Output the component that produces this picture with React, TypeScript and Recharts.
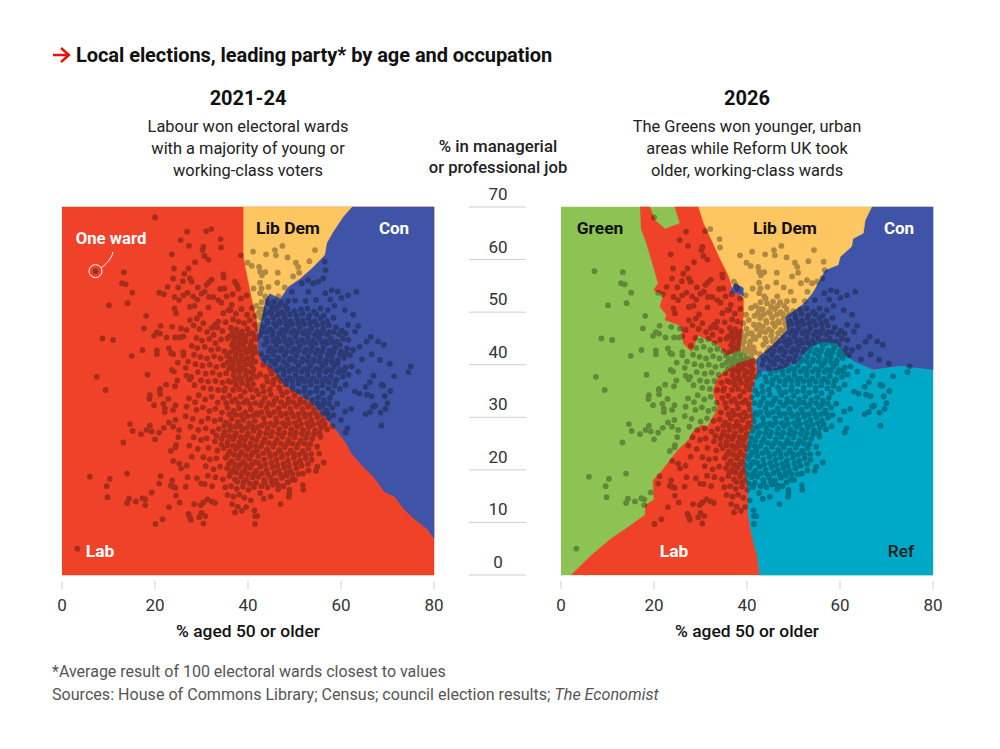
import { ScatterChart, Scatter, XAxis, YAxis, ReferenceDot } from 'recharts';

type Pt = { x: number; y: number };

const RED = '#F04228';
const YELLOW = '#FDC661';
const BLUE = '#3F54A6';
const GREEN = '#8DC353';
const CYAN = '#00A8C8';
const FONT = 'Roboto, sans-serif';

const ageTicks = [0, 20, 40, 60, 80];
const jobTicks = [0, 10, 20, 30, 40, 50, 60, 70];

const toPts = (rows: number[][]): Pt[] => rows.map(([x, y]) => ({ x, y }));

// one [age, job] pair per ward (same wards in both panels)
const scatteredWards = [
  [20, 68], [26.9, 65.3], [31, 65.4], [32.1, 65.8], [25.5, 63.7], [27.3, 62.6], [30.4, 62.4], [30.2, 61.8], [34.1, 63.9], [34.2, 62.3],
  [23.6, 61], [30.6, 60.7], [31.5, 60], [38.5, 60.8], [28.6, 59.5], [24.1, 58.3], [27.2, 58.3], [7.2, 57.8], [13.3, 57.6], [26.3, 57.3],
  [26, 55.9], [23.9, 56.4], [27.5, 56.4], [27.9, 55.8], [32.2, 56.2], [31.1, 55.2], [31.6, 55.7], [34.7, 57.2], [34.8, 56.6], [37.2, 55.8],
  [37.6, 55.2], [12.9, 55.5], [13.7, 55.3], [22.7, 54.8], [25, 54.7], [29.2, 54.7], [34, 54.4], [34.9, 54.5], [37.9, 54.5], [15.1, 53.7],
  [20.9, 53.7], [21.9, 53.4], [26.1, 53.2], [27, 53.7], [30, 53.5], [30.7, 53.9], [24.2, 52.9], [14.1, 51.7], [10.1, 51.3], [25.2, 52.3],
  [28.2, 53], [29.1, 52.4], [31.6, 52.9], [32.5, 52.9], [35.4, 53], [36.7, 53.4], [38.5, 52.6], [39.7, 53.2], [33.6, 52.3], [34.3, 51.8],
  [27.5, 51], [28.5, 51.2], [31.5, 50.9], [24.2, 50.7], [18.1, 49.3], [24.5, 49.8], [34.7, 49.8], [35.8, 50.4], [36.5, 51.4], [29.7, 49.6],
  [29, 48.8], [27.5, 48.5], [33.6, 48.2], [32.9, 47.6], [32.2, 47], [17.6, 46.9], [21.2, 47.4], [23.7, 47.2], [25.6, 46.9], [26.8, 46.6],
  [20.4, 46.2], [19.8, 45.5], [21.1, 45.9], [22.5, 45.2], [8.7, 45], [11, 44.7], [24.3, 45.2], [25.4, 45.2], [26.1, 45.4], [23, 43.1],
  [23.5, 42.2], [23.9, 42], [15, 41.7], [17.3, 42.8], [20.4, 42.7], [20.4, 42], [26.1, 42.4], [26.1, 41.8], [24.9, 40.4], [7.5, 37.7],
  [18.4, 38.1], [23.6, 39], [24.1, 38.7], [24.8, 37], [26.8, 37.9], [27.5, 37.2], [22.4, 36.2], [24.3, 35.9], [21, 35.2], [9.4, 35.2],
  [18.9, 34.2], [18.8, 33.5], [19.8, 32.3], [21.1, 35.4], [21.1, 34.4], [21.8, 32.6], [22.9, 33.5], [22.1, 31.7], [22.1, 31], [23.9, 31.4],
  [24.4, 32.3], [14.6, 28.7], [15.2, 27.4], [17, 26.8], [18.2, 27.6], [18.9, 28.4], [19.3, 27.3], [20, 25.8], [20.9, 27.1], [21.9, 28],
  [23, 29], [23.9, 28.2], [24.4, 29.5], [25.2, 27.6], [25, 26.2], [13.2, 25.2], [24.5, 24.7], [24.4, 24.3], [23.4, 23.6], [23.9, 21.7],
  [25.2, 21.2], [25.6, 20.3], [26.8, 20.8], [6, 18.7], [10.3, 18.3], [14, 19.3], [21.2, 18.8], [20.9, 17.4], [9.6, 16.9], [9.8, 14.8],
  [19.3, 15.7], [23.7, 18], [23.4, 17], [23.9, 16.8], [24.4, 16.6], [26.6, 16.8], [27, 18.6], [29, 18.4], [29.9, 17.4], [30.7, 17.3],
  [32.3, 16.9], [24.5, 15.1], [25.3, 13.8], [14.4, 14.5], [14, 13.7], [15.9, 14], [17.3, 14.6], [17.9, 14.4], [17.9, 13.3], [23, 12.9],
  [28.4, 13.5], [29.8, 13.3], [30.4, 13.8], [31.3, 14.4], [32.2, 14], [32.9, 13.7], [27.2, 11.6], [27.5, 11], [27.7, 10.5], [29.5, 11],
  [30, 11.8], [30.8, 11.2], [30.4, 9.8], [21.6, 10.6], [20.1, 9.7], [3.3, 5],
  [40.6, 14.2], [41.4, 12.3], [41.5, 11.2], [42, 11.2], [41.5, 9.7], [47, 13.5], [48.9, 16.2], [48.9, 15.5], [48.8, 14.9], [51.8, 17.1],
  [51.9, 16.2], [46.5, 16.3], [44.9, 14.9], [43.4, 14.5], [42.6, 15.6], [49.4, 18.1], [50.1, 18.1], [51.8, 19.3], [53, 19.9], [54.6, 19.8],
  [54.9, 20.6], [56.3, 21.4], [55.3, 23.1], [54.9, 24.4],
  [61.4, 27.9], [61, 27.1], [60, 29.5], [60.9, 31.1], [62.2, 31.6], [65.3, 30.6], [66.2, 31], [66.9, 32], [67.3, 32.2], [68.7, 28.4],
  [68.5, 30.9], [69.6, 31.6], [70, 32.7], [69.4, 34], [70.6, 35], [64, 34.5], [65.6, 34.3], [66.6, 34], [65.3, 35.8], [69.1, 36], [63, 34.9],
  [47.4, 62.6], [45.8, 61.8], [46, 60.8], [43.9, 61], [41.1, 61.5], [48.5, 60.4], [54.4, 61.8], [53.2, 59.7], [50.3, 59.4], [50.8, 58.6],
  [56.5, 59.6], [56.7, 58], [40.8, 58.8], [39.9, 59.4], [42.4, 58.6], [42.6, 57.7], [43.7, 57.6], [43, 57], [46.4, 57.5], [51, 57.5],
  [49.7, 56.8], [52.9, 56.1], [54, 55.5], [55.1, 55.8], [56.2, 56.4], [46.3, 55.6], [44.4, 54.8], [42.6, 55.6], [42.9, 54.5], [42.6, 53.6],
  [43.7, 53], [47.9, 54.7], [49.4, 53.9], [46.5, 53], [41.2, 54.5],
  [63.3, 53.9], [61.5, 53.2], [60.1, 52.7], [59.3, 53.9], [58, 54.2], [56.6, 53.6], [53, 53.9], [51.6, 55.5], [60.8, 50.4], [62.6, 49.5],
  [63.7, 47.4], [63, 46.3], [66.4, 45.3], [65.5, 44.4], [68, 44.4], [69.2, 43.8], [66.6, 42], [68.4, 40.9], [70.5, 40.2], [75, 39.7],
  [74.5, 38.6], [71.4, 37.8], [67, 37.9], [66.2, 36.7], [68.7, 36.2], [63.7, 38.7], [62.3, 39.7],
];

const youngerWards = [
  [28.3, 47.5], [29.6, 46.8], [30.4, 47.9], [31.2, 46.2], [32.6, 45.7], [33.4, 47.1], [34.5, 46.4], [35.2, 48.1], [28.9, 45.1], [30.1, 44.6],
  [31.7, 44.9], [33, 44.1], [34.2, 44.8], [35.6, 45], [27.9, 43.6], [29.1, 43.2], [30.7, 43.4], [32.1, 42.8], [33.6, 43], [34.9, 42.6],
  [28.4, 41.9], [29.8, 41.5], [31.2, 41.2], [32.7, 41.6], [34.1, 41.2], [35.5, 41.7], [27.1, 40.6], [28.7, 40.1], [30.2, 39.8], [31.8, 40],
  [33.2, 39.6], [34.7, 39.9], [35.9, 39.3], [26.6, 39.4], [29.2, 38.6], [30.9, 38.3], [32.4, 38.5], [33.9, 38.1], [35.3, 38.4], [27.8, 37.7],
  [29.9, 37], [31.4, 36.8], [33, 36.9], [34.5, 36.6], [35.8, 36.9], [28.5, 36.1], [30.4, 35.6], [32, 35.4], [33.6, 35.2], [35.1, 35.5],
  [36.2, 50.4], [37.4, 49.7], [38.6, 50.6], [39.8, 49.5], [40.9, 50.8], [41.6, 49.3], [36.8, 48.6], [38, 48.2], [39.2, 47.9], [40.4, 48.5],
  [41.5, 47.6], [36.3, 47], [37.5, 46.7], [38.7, 46.3], [39.9, 46.8], [41, 46], [36, 45.4], [37.1, 45.1], [38.3, 44.9], [39.5, 45.3],
  [40.7, 44.5], [41.8, 44.9], [36.6, 43.7], [37.8, 43.4], [39, 43.8], [40.2, 43.1], [41.4, 43.3], [36.2, 42.4], [37.4, 42], [38.6, 41.8],
  [39.7, 42.3], [40.9, 41.7], [36.7, 40.9], [37.9, 40.5], [39.1, 40.7], [40.4, 40.2], [41.6, 40.6], [36.4, 39.5], [37.6, 39], [38.8, 39.3],
  [40, 38.7], [41.2, 39.1], [36.9, 38], [38.2, 37.6], [39.5, 37.9], [40.7, 37.4], [41.9, 37.7], [36.3, 36.7], [37.4, 36.2], [38.7, 36.5],
  [39.9, 36], [41.1, 36.3],
  [27.3, 33.6], [28.6, 32.9], [29.4, 34.2], [30.8, 33.4], [32.2, 33.9], [33.5, 32.8], [34.7, 33.7], [36, 34.1], [37.3, 33.4], [38.5, 34],
  [39.7, 33.2], [41, 33.8], [26.8, 32], [28.9, 31.4], [30.3, 31.9], [31.7, 31.2], [33, 31.6], [34.4, 30.9], [35.6, 31.8], [36.9, 31.2],
  [38.1, 31.7], [39.4, 30.9], [40.6, 31.5], [41.8, 30.8], [26.6, 30.2], [28.1, 29.7], [30, 29.2], [31.4, 29.8], [32.8, 29.3], [34.1, 29.6],
  [35.3, 29], [36.5, 29.7], [37.8, 29.1], [39, 29.5], [40.3, 28.9], [41.5, 29.3], [27.6, 28.2], [29.3, 27.6], [30.9, 27.9], [32.4, 27.3],
  [33.7, 27.8], [35, 27.2], [36.2, 27.6], [37.4, 27], [38.7, 27.5], [40, 26.9], [41.2, 27.4], [28.3, 26.2], [29.9, 25.7], [31.1, 26],
  [32.9, 25.4], [34.3, 25.9], [35.6, 25.3], [36.8, 25.8], [38.1, 25.2], [39.3, 25.7], [40.6, 25.1], [41.8, 25.6], [27.4, 24.6], [29.2, 24],
  [31.5, 24.2], [33.4, 23.7], [34.8, 24.1], [36.1, 23.5], [37.4, 24], [38.6, 23.4], [39.9, 23.9], [41.1, 23.3], [27.9, 22.5], [30.4, 22.4],
  [31.8, 22], [33.2, 22.2], [35.2, 22.3], [36.5, 21.7], [37.8, 22.2], [39, 21.6], [40.3, 22.1], [41.5, 21.5], [30.9, 20.7], [32.6, 20.1],
  [34, 20.6], [35.5, 20.3], [36.8, 20], [38, 20.5], [39.3, 19.9], [40.5, 20.4], [41.8, 19.8], [31.4, 18.9], [33, 18.6], [34.6, 18.2],
  [36, 18.8], [37.2, 18.2], [38.5, 18.7], [39.7, 18.1], [41, 18.6], [35.1, 16.7], [36.4, 16.9], [37.6, 16.4], [38.9, 16.8], [40.1, 16.2],
  [41.3, 16.7], [35.6, 15.2], [36.9, 14.9], [38.1, 15.3], [39.2, 14.7], [36.6, 13.5], [37.8, 13], [38.7, 12.2], [37.2, 11.9], [39.6, 12.9],
];

const olderWards = [
  [42.3, 34.4], [43.6, 33.7], [44.9, 34.3], [46.1, 33.6], [47.4, 34.2], [48.7, 33.5], [50, 34.1], [51.2, 33.4], [52.5, 33.9], [53.8, 33.3],
  [55.1, 33.8], [56.3, 33.2], [57.6, 33.7], [42.7, 32.3], [44, 31.8], [45.3, 32.4], [46.6, 31.7], [47.8, 32.2], [49.1, 31.6], [50.4, 32.1],
  [51.7, 31.5], [52.9, 32], [54.2, 31.4], [55.5, 31.9], [56.8, 31.3], [58.1, 31.8], [59.2, 32.6], [42.2, 30.5], [43.4, 29.9], [44.7, 30.4],
  [46, 29.8], [47.2, 30.3], [48.5, 29.7], [49.8, 30.2], [51, 29.6], [52.3, 30.1], [53.6, 29.5], [54.9, 30], [56.1, 29.4], [57.4, 29.9],
  [58.4, 30.4], [42.9, 28.4], [44.2, 27.9], [45.5, 28.5], [46.7, 27.8], [48, 28.3], [49.3, 27.7], [50.6, 28.2], [51.8, 27.6], [53.1, 28.1],
  [54.4, 27.5], [55.7, 28], [57, 27.7], [58.2, 28.3], [42.3, 26.5], [43.6, 25.9], [44.9, 26.4], [46.2, 25.8], [47.4, 26.3], [48.7, 25.7],
  [50, 26.2], [51.3, 25.6], [52.5, 26.1], [53.8, 25.9], [55.6, 26.3], [42.8, 24.5], [44.1, 23.9], [45.4, 24.4], [46.7, 23.8], [47.9, 24.3],
  [49.2, 23.7], [50.5, 24.2], [51.8, 23.6], [53, 24.1], [42.2, 22.6], [43.5, 22], [44.8, 22.5], [46.1, 21.9], [47.3, 22.4], [48.6, 21.8],
  [49.9, 22.3], [51.2, 21.7], [52.4, 22.2], [53.7, 21.9], [42.7, 20.6], [44, 20], [45.3, 20.5], [46.6, 19.9], [47.8, 20.4], [49.1, 19.8],
  [50.4, 20.3], [42.2, 18.7], [43.5, 18.1], [44.8, 18.6], [46, 18], [47.3, 18.5], [48.3, 18.9], [42.9, 16.9], [44.2, 16.7], [45.4, 17.2],
  [47.6, 16.9], [48.1, 36.2], [43.2, 35.9], [45.4, 36.3], [46.7, 35.7], [49.6, 35.8], [50.9, 36.4], [52.2, 35.7], [53.5, 36.2], [54.8, 35.6],
  [56, 36.1], [57.3, 35.5], [58.6, 36], [59.8, 35.4], [61, 36.2],
  [42.6, 38.2], [43.9, 37.7], [45.1, 38.3], [46.4, 37.6], [47.7, 38.1], [48.9, 37.5], [50.2, 38], [51.5, 37.4], [52.8, 38], [54, 37.4],
  [55.3, 37.9], [56.6, 37.3], [57.8, 37.8], [59.1, 37.2], [60.4, 37.7], [61.6, 38.1], [43.3, 40], [44.6, 39.5], [45.8, 40.1], [47.1, 39.4],
  [48.4, 39.9], [49.6, 39.3], [50.9, 39.8], [52.2, 39.2], [53.4, 39.8], [54.7, 39.2], [56, 39.7], [57.2, 39.1], [58.5, 39.6], [59.8, 39],
  [61, 39.5], [42.8, 42], [44.1, 41.4], [45.4, 41.9], [46.6, 41.3], [47.9, 41.8], [49.2, 41.2], [50.4, 41.7], [51.7, 41.1], [53, 41.6],
  [54.2, 41], [55.5, 41.5], [56.8, 40.9], [58, 41.4], [59.3, 40.8], [60.6, 41.3], [61.9, 41.8], [64.5, 41], [43.5, 43.8], [44.8, 43.2],
  [46.1, 43.7], [47.3, 43.1], [48.6, 43.6], [49.9, 43], [51.1, 43.5], [52.4, 42.9], [53.7, 43.4], [54.9, 42.8], [56.2, 43.3], [57.5, 42.7],
  [58.7, 43.2], [60, 42.6], [61.3, 43.1], [62.6, 42.8], [64, 43.4], [42.6, 45.6], [43.9, 45], [45.2, 45.5], [46.4, 44.9], [47.7, 45.4],
  [49, 44.8], [50.2, 45.3], [51.5, 44.7], [52.8, 45.2], [54, 44.6], [55.3, 45.1], [56.6, 44.5], [57.8, 45], [59.1, 44.4], [60.4, 44.9],
  [61.6, 44.7], [43.4, 47.2], [44.7, 46.7], [46, 47.3], [47.3, 46.6], [48.5, 47.1], [49.8, 46.5], [51.1, 47], [52.4, 46.4], [53.6, 46.9],
  [54.9, 46.3], [56.2, 46.8], [57.5, 46.2], [58.9, 47.1], [60.2, 46.5], [61.5, 47.6], [42.8, 48.9], [44.1, 48.4], [45.4, 49], [46.7, 48.3],
  [47.9, 48.8], [49.2, 48.3], [50.5, 48.8], [51.8, 48.4], [53, 48.9], [54.3, 48.3], [55.6, 48.8], [57, 48.3], [58.4, 48.9], [43.4, 50.5],
  [44.7, 50], [46, 50.6], [47.2, 50], [48.5, 50.6], [50, 50.2], [51.4, 50.5], [52.8, 50.7], [54.2, 50.1], [55.6, 50.7], [57.2, 50.4],
  [58.6, 51.2], [42.9, 51.9], [44.3, 51.7], [45.6, 52], [47.1, 51.9], [48.6, 52.1], [50.1, 52.2], [52.4, 52.1], [54.6, 52.3], [57.7, 52.4],
];

// the thick middle of the cloud, where the dots run together
const coreWards = [
  [34.9, 35.1], [36.8, 35.2], [38.1, 35.4], [39.3, 34.9], [40.6, 35.3], [41.8, 35.1], [43.4, 34.9], [44.7, 35.3], [47, 35], [48.3, 34.8], [49.5, 35.2], [50.8, 34.9], [52.1, 35], [53.4, 34.7], [54.7, 35], [56, 34.6], [58.2, 34.7],
  [35.3, 32.7], [36.6, 33], [37.9, 32.6], [39.1, 32.8], [40.4, 32.5], [41.6, 32.7], [43, 32.9], [44.4, 32.7], [45.7, 33.1], [47.1, 32.9], [48.5, 32.7], [49.7, 32.9], [51, 32.6], [52.2, 32.8], [53.5, 32.4], [54.9, 32.7], [56.1, 32.4], [57.4, 32.6],
  [36, 30.6], [37.3, 30.5], [38.5, 30.4], [39.9, 30.2], [41.1, 30.3], [42.9, 31], [44.3, 30.9], [45.6, 31], [46.9, 30.8], [48.2, 30.7], [49.4, 30.8], [50.8, 30.6], [52, 30.8], [53.3, 30.6], [54.6, 30.7], [55.9, 30.6], [57.1, 30.7],
  [34.9, 28.4], [36.1, 28.5], [37.3, 28.2], [38.4, 28.3], [39.7, 28], [40.9, 28.2], [42.1, 28.1], [43.6, 28.9], [44.9, 28.8], [46.2, 29], [47.5, 28.9], [48.8, 28.8], [50.1, 28.9], [51.4, 28.7], [52.7, 28.9], [54, 28.6], [55.2, 28.9], [56.5, 28.7],
  [33.2, 26.5], [34.7, 26.6], [35.9, 26.4], [37.1, 26.4], [38.4, 26.2], [39.6, 26.3], [40.9, 26.1], [42.6, 27.1], [43.9, 27], [45.2, 27.2], [46.5, 26.9], [47.8, 27.1], [49.1, 26.8], [50.3, 27.1], [51.6, 26.8], [52.9, 27], [54.2, 26.8], [55.4, 27],
  [34.3, 24.8], [35.6, 24.7], [36.8, 24.6], [38, 24.5], [39.2, 24.6], [40.4, 24.4], [41.7, 24.5], [43.2, 25.2], [44.5, 25.1], [45.8, 25.1], [47.1, 25], [48.4, 25], [49.6, 25], [50.9, 24.9], [52.2, 25], [53.4, 24.9],
  [35.7, 22.9], [37, 22.9], [38.2, 22.8], [39.5, 22.7], [40.7, 22.8], [42, 23.6], [43.3, 23.2], [44.6, 23.2], [45.9, 23], [47.2, 23.2], [48.5, 23], [49.8, 23.1], [51, 22.9], [52.3, 23], [53.6, 23],
  [35.9, 21.1], [37.2, 21], [38.4, 21.1], [39.6, 20.9], [40.9, 21.1], [42.3, 21.3], [43.7, 21], [45, 21.3], [46.3, 20.9], [47.6, 21.2], [48.8, 20.8], [50.2, 21.2], [51.5, 20.8], [52.9, 21.1],
  [36.2, 19.4], [37.5, 19.5], [38.8, 19.4], [40, 19.2], [41.3, 19.3], [43, 19.3], [44.3, 19.2], [45.7, 19.4], [47, 19.1], [48.3, 19.4], [49.6, 19.2], [50.9, 19.2],
  [37.7, 17.7], [39, 17.6], [40.4, 17.4], [41.7, 17.5], [43.6, 17.6], [45.1, 17.8], [46.5, 17.1], [48.5, 17.6],
  [44.2, 36.8], [45.5, 37.1], [47, 36.9], [48.3, 37], [49.6, 36.9], [50.9, 37.2], [52.2, 36.9], [53.4, 36.9], [54.8, 36.8], [56.1, 36.9], [57.4, 36.7], [58.8, 36.9],
  [44.9, 38.9], [46.2, 38.9], [47.6, 39], [48.9, 38.8], [50.2, 39], [51.5, 38.7], [52.8, 38.9], [54.1, 38.7], [55.4, 38.9], [56.7, 38.6], [58, 38.8], [59.4, 38.5], [60.6, 38.8],
  [43.6, 41], [45, 40.7], [46.3, 41], [47.6, 40.6], [48.9, 40.9], [50.2, 40.6], [51.5, 40.6], [52.8, 40.7], [54.1, 40.6], [55.4, 40.6], [56.6, 40.3], [58, 40.5], [59.2, 40.2],
  [44.4, 42.6], [45.7, 42.6], [47, 42.7], [48.2, 42.5], [49.5, 42.5], [50.8, 42.7], [52.1, 42.4], [53.4, 42.6], [54.6, 42.2], [55.9, 42.5], [57.2, 42], [58.4, 42.3], [59.8, 41.9], [61, 42.2],
  [44.1, 44.4], [45.5, 44.5], [46.8, 44.5], [48, 44.4], [49.4, 44.2], [50.7, 44.4], [52, 44.2], [53.2, 44.2], [54.5, 44.1], [55.9, 44.3], [57, 44.1], [58.3, 44.2], [59.7, 43.8],
  [44, 46.2], [45.3, 46.3], [46.7, 46], [48, 46.3], [49.3, 46.1], [50.6, 46.2], [51.9, 46], [53.1, 46.1], [54.4, 45.7], [55.8, 46], [57, 45.8], [58.4, 46.2], [59.6, 45.8], [61, 45.9],
  [44.2, 48], [45.6, 47.9], [46.9, 48], [48.2, 47.8], [49.5, 47.7], [50.8, 47.9], [52.1, 47.7], [53.4, 47.9], [54.8, 47.6], [56.1, 47.8], [57.4, 47.5],
  [43.6, 49.6], [45, 49.8], [46.4, 49.5], [47.7, 49.6], [49, 49.6], [50.4, 49.4], [51.7, 49.7], [53.2, 49.4], [54.7, 49.6], [56.3, 49.4],
  [36.7, 46], [37.9, 45.7], [39.1, 45.5], [40.2, 45.9], [41.4, 45.3], [36.9, 44.4], [38.1, 44], [39.4, 44.4], [40.6, 43.8], [41.7, 42.4],
  [37, 42.9], [38.2, 42.8], [39.4, 42.8], [40.7, 42.6], [36.1, 41.2], [37.3, 41.3], [38.6, 41], [39.8, 41.2], [41, 40.8], [35.6, 40.4],
  [36.8, 40], [38.2, 39.9], [39.5, 40], [40.8, 39.8], [37, 38.9], [38.2, 38.6], [39.6, 38.8], [40.9, 38.4], [37.3, 37.2], [38.5, 37.1], [40, 37],
  [42.1, 46.8], [42.6, 47.6], [43, 46.3], [42.3, 49.8], [43.1, 49.3], [41.8, 51.2], [42.6, 50.6], [44, 52.6], [45.2, 51], [46.6, 51.2], [48, 51.2],
];

const wards = toPts([...scatteredWards, ...youngerWards, ...olderWards, ...coreWards]);

// party regions, as [age, job] outlines
const frame = toPts([[0, 0], [80, 0], [80, 70], [0, 70]]);

const libDem2124 = toPts([
  [39, 70], [62.3, 70], [60.5, 68.2], [58.3, 65.3], [56.9, 63.1], [56.5, 60.9], [54, 58.6], [51.2, 56.4], [48.7, 54.9], [46.9, 52.6],
  [44.7, 53.6], [43.7, 52.3], [42.2, 46], [41.9, 49], [41, 52], [40.3, 55], [39.6, 58], [39, 61],
]);
const con2124 = toPts([
  [62.3, 70], [80, 70], [80, 7], [78.4, 8.9], [75.6, 10.8], [73.4, 12.7], [71.6, 14.9], [69.4, 15.8], [67, 18.7], [64.8, 20.6],
  [62.3, 23.1], [61.2, 25], [59, 27.6], [56.2, 30.4], [53.3, 33], [50.5, 34.6], [47.9, 36.1], [45.5, 39], [42.6, 41], [42.4, 42.3],
  [42.2, 43.6], [42.2, 46], [43.7, 52.3], [44.7, 53.6], [46.9, 52.6], [48.7, 54.9], [51.2, 56.4], [54, 58.6], [56.5, 60.9], [56.9, 63.1],
  [58.3, 65.3], [60.5, 68.2],
]);

const libDem26 = toPts([
  [29.5, 70], [66.8, 70], [65.4, 67.5], [65, 65], [62.8, 64], [62.5, 62.5], [60, 60.5], [59.6, 59], [56.8, 58], [54.6, 54.5],
  [54, 53.6], [52.1, 51.6], [50.7, 50.7], [48.2, 49.1], [48.6, 46.6], [45.7, 44], [42.1, 41.2], [41.7, 40.9], [38.5, 42.8], [38.8, 44.8],
  [39.2, 49.4], [39.2, 52.6], [36.7, 54.8], [35.9, 57], [34.1, 60.2], [32.3, 63.7], [30.6, 66.9],
]);
const con26 = toPts([
  [66.8, 70], [80, 70], [80, 39], [72.9, 39.7], [67.2, 39], [63.6, 40.3], [61.4, 41.5], [59.3, 44], [56.4, 44.3], [53.6, 43.4],
  [50.7, 40.3], [47, 39], [42.1, 38.5], [42.1, 41.2], [45.7, 44], [48.6, 46.6], [48.2, 49.1], [50.7, 50.7], [52.1, 51.6], [54, 53.6],
  [54.6, 54.5], [56.8, 58], [59.6, 59], [60, 60.5], [62.5, 62.5], [62.8, 64], [65, 65], [65.4, 67.5],
]);
const ref26 = toPts([
  [80, 39], [72.9, 39.7], [67.2, 39], [63.6, 40.3], [61.4, 41.5], [59.3, 44], [56.4, 44.3], [53.6, 43.4], [50.7, 40.3], [47, 39],
  [42.1, 38.5], [41, 34.9], [41, 32.3], [41.2, 28.5], [40.3, 26.6], [40, 24], [39.4, 20.9], [40, 17], [40.2, 14.6], [40.1, 11.8],
  [40.6, 9], [41.4, 5.8], [42.1, 3.7], [42.6, 0], [80, 0],
]);
const labLower26 = toPts([
  [2.2, 0], [6.6, 3.8], [10.9, 7], [14.1, 8.9], [18.1, 11.4], [18.2, 13.3], [20, 14.3], [19.8, 18], [21.6, 19.7], [23.4, 21.8],
  [25.2, 23.8], [27.4, 25.7], [28.4, 27.3], [30.2, 28.5], [31.5, 28.2], [33.8, 31.7], [32.7, 34.9], [33.8, 37.7], [36, 39.1], [38.1, 40.3],
  [41.6, 41.3], [42.1, 38.5], [41, 34.9], [41, 32.3], [41.2, 28.5], [40.3, 26.6], [40, 24], [39.4, 20.9], [40, 17], [40.2, 14.6],
  [40.1, 11.8], [40.6, 9], [41.4, 5.8], [42.1, 3.7], [42.6, 0],
]);
const labUpper26 = toPts([
  [17, 70], [19.1, 70], [20.2, 67.5], [22.4, 65.8], [25.6, 66.9], [24.5, 70], [29.5, 70], [30.6, 66.9], [32.3, 63.7], [34.1, 60.2],
  [35.9, 57], [36.7, 54.8], [39.2, 52.6], [39.2, 49.4], [38.8, 44.8], [38.5, 42.8], [35.6, 41.8], [33.8, 43.8], [29.5, 45.6], [28.1, 42.5],
  [26.3, 44.1], [25.8, 47.4], [22.4, 48.5], [22.7, 49.5], [21.3, 51], [22, 53.3], [19.9, 54.2], [20.9, 55.5], [19.9, 58.6], [18.4, 63.1],
  [17.2, 65.9],
]);
const conPocket26 = toPts([[37.4, 55.5], [39.2, 54.6], [39.2, 53.1], [37.8, 53.6], [36.3, 53.8]]);

const regions2124 = [
  { key: 'lab', data: frame, color: RED },
  { key: 'con', data: con2124, color: BLUE },
  { key: 'ld', data: libDem2124, color: YELLOW },
];
const regions26 = [
  { key: 'green', data: frame, color: GREEN },
  { key: 'con', data: con26, color: BLUE },
  { key: 'ld', data: libDem26, color: YELLOW },
  { key: 'ref', data: ref26, color: CYAN },
  { key: 'lab', data: labLower26, color: RED },
  { key: 'labu', data: labUpper26, color: RED },
  { key: 'conp', data: conPocket26, color: BLUE },
];

const AgeTick = ({ x, y, payload }: any) => (
  <g>
    <line x1={x} x2={x} y1={y + 6} y2={y + 14} stroke="#cfcfcf" strokeWidth={1} />
    <text x={x} y={y + 36} textAnchor="middle" fontSize={17} fontFamily={FONT} fill="#333">
      {payload.value}
    </text>
  </g>
);

const JobTick = ({ x, y, payload }: any) => (
  <g>
    <line x1={x - 92} x2={x - 35} y1={y} y2={y} stroke="#cfcfcf" strokeWidth={1} />
    <text x={x - 63} y={y - 7} textAnchor="middle" fontSize={17} fontFamily={FONT} fill="#333">
      {payload.value}
    </text>
  </g>
);

const Dot = ({ cx, cy }: any) => <circle cx={cx} cy={cy} r={2.9} />;
const NoDot = () => null;

function Panel({ regions, withJobAxis, marker }: any) {
  const width = withJobAxis ? 484 : 412;
  return (
    <ScatterChart
      width={width}
      height={458}
      margin={{ top: 30, right: 20, bottom: 0, left: withJobAxis ? 0 : 20 }}
    >
      <XAxis
        type="number"
        dataKey="x"
        domain={[0, 80]}
        ticks={ageTicks}
        axisLine={false}
        tickLine={false}
        tickSize={0}
        tickMargin={0}
        tick={<AgeTick />}
        height={60}
        interval={0}
      />
      <YAxis
        type="number"
        dataKey="y"
        domain={[0, 70]}
        ticks={jobTicks}
        hide={!withJobAxis}
        width={withJobAxis ? 92 : 0}
        axisLine={false}
        tickLine={false}
        tickSize={0}
        tickMargin={0}
        tick={<JobTick />}
        interval={0}
      />
      {regions.map((r: any) => (
        <Scatter
          key={r.key}
          data={r.data}
          line={{ fill: r.color, stroke: r.color, strokeWidth: 0.5 }}
          shape={NoDot}
          isAnimationActive={false}
        />
      ))}
      <Scatter className="ward-dots" data={wards} fill="#000" shape={Dot} isAnimationActive={false} />
      {marker && (
        <ReferenceDot x={marker.x} y={marker.y} r={6.5} fill="none" stroke="#fff" strokeWidth={1} />
      )}
    </ScatterChart>
  );
}

const Txt = ({ x, y, w, align = 'left', size = 16.4, weight = 400, color = '#222', spacing = 0, children }: any) => (
  <div
    style={{
      position: 'absolute',
      left: align === 'center' ? x - w / 2 : x,
      top: y,
      width: w,
      textAlign: align,
      fontSize: size,
      fontWeight: weight,
      color,
      letterSpacing: spacing,
      lineHeight: '22px',
      fontFamily: FONT,
      whiteSpace: 'nowrap',
    }}
  >
    {children}
  </div>
);

export default function App() {
  return (
    <div style={{ position: 'absolute', left: 0, top: 0, width: 1000, height: 749, background: '#fff', overflow: 'hidden' }}>
      <style>{'.ward-dots { opacity: 0.3; }'}</style>
      <div style={{ position: 'absolute', left: 42, top: 177 }}>
        <Panel regions={regions2124} marker={{ x: 7.2, y: 57.8 }} />
      </div>
      <div style={{ position: 'absolute', left: 469, top: 177 }}>
        <Panel regions={regions26} withJobAxis />
      </div>

      <svg width={1000} height={749} style={{ position: 'absolute', left: 0, top: 0, pointerEvents: 'none' }}>
        <path d="M53 55 H68 M61 48 L69 55 L61 62" fill="none" stroke="#E3120B" strokeWidth={2.4} />
        <path d="M113 252 C111 260 106 264 101 268" fill="none" stroke="#fff" strokeWidth={1} />
      </svg>

      <Txt x={76} y={44} w={520} size={20} weight={700} color="#111" spacing={-0.06}>Local elections, leading party* by age and occupation</Txt>

      <Txt x={248} y={87} w={200} align="center" size={20} weight={700} color="#111">2021-24</Txt>
      <Txt x={248} y={116} w={300} align="center">Labour won electoral wards</Txt>
      <Txt x={248} y={138} w={300} align="center">with a majority of young or</Txt>
      <Txt x={248} y={160} w={300} align="center">working-class voters</Txt>

      <Txt x={747} y={87} w={200} align="center" size={20} weight={700} color="#111">2026</Txt>
      <Txt x={747} y={116} w={300} align="center">The Greens won younger, urban</Txt>
      <Txt x={747} y={138} w={300} align="center">areas while Reform UK took</Txt>
      <Txt x={747} y={160} w={300} align="center">older, working-class wards</Txt>

      <Txt x={498} y={135} w={200} align="center" weight={500} size={16.8}>% in managerial</Txt>
      <Txt x={498} y={157} w={200} align="center" weight={500} size={16.6}>or professional job</Txt>

      <Txt x={111} y={228} w={100} align="center" weight={700} color="#fff" size={16.7}>One ward</Txt>
      <Txt x={288} y={217} w={100} align="center" weight={700} color="#111" size={17.4}>Lib Dem</Txt>
      <Txt x={394} y={217} w={60} align="center" weight={700} color="#fff" size={17}>Con</Txt>
      <Txt x={100} y={540} w={60} align="center" weight={700} color="#fff" size={17.4}>Lab</Txt>

      <Txt x={600} y={217} w={80} align="center" weight={700} color="#111" size={17.4}>Green</Txt>
      <Txt x={785} y={217} w={100} align="center" weight={700} color="#111" size={17.4}>Lib Dem</Txt>
      <Txt x={899} y={217} w={60} align="center" weight={700} color="#fff" size={17}>Con</Txt>
      <Txt x={674} y={540} w={60} align="center" weight={700} color="#fff" size={17.4}>Lab</Txt>
      <Txt x={901} y={540} w={60} align="center" weight={500} color="#222" size={17.4}>Ref</Txt>

      <Txt x={248} y={620} w={240} align="center" weight={500} color="#111" size={17.4}>% aged 50 or older</Txt>
      <Txt x={747} y={620} w={240} align="center" weight={500} color="#111" size={17.4}>% aged 50 or older</Txt>

      <Txt x={52} y={661} w={600} color="#555" size={16}>*Average result of 100 electoral wards closest to values</Txt>
      <Txt x={52} y={684} w={700} color="#555" size={16.1}>
        Sources: House of Commons Library; Census; council election results; <i>The Economist</i>
      </Txt>
    </div>
  );
}
